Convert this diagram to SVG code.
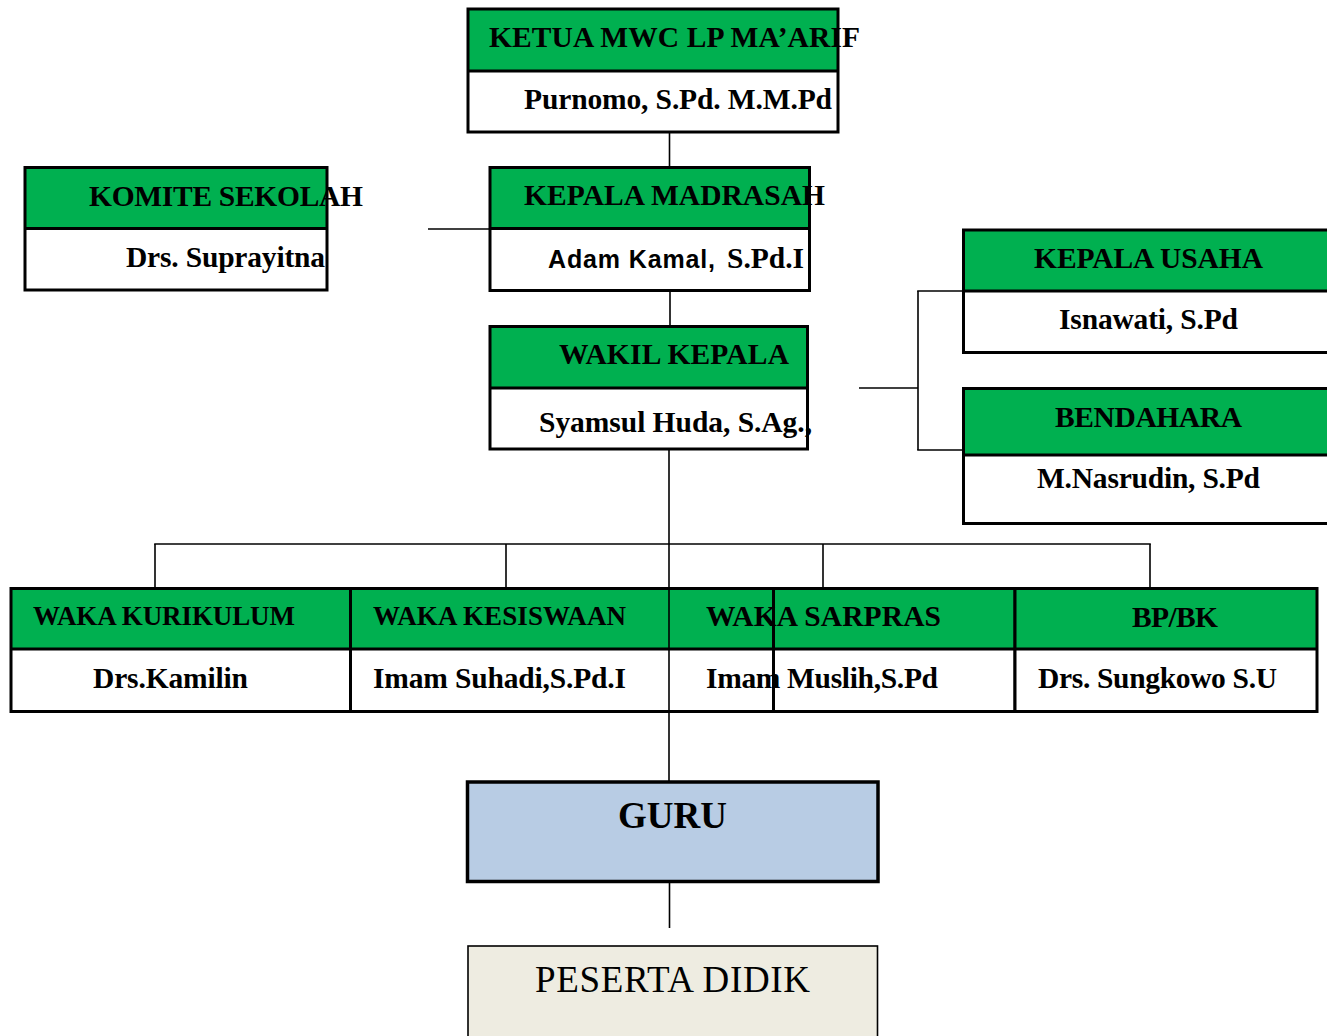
<svg xmlns="http://www.w3.org/2000/svg" width="1327" height="1036" viewBox="0 0 1327 1036">
<style>
.hdr{fill:#00B050}
.wh{fill:#FFFFFF}
.out{fill:none;stroke:#000;stroke-width:3}
.t{font-family:"Liberation Serif","Times New Roman",serif;font-weight:bold;font-size:29.5px;fill:#000}
.s{font-size:27px}
.conn line{stroke:#000;stroke-width:1.6}
</style>
<rect x="0" y="0" width="1327" height="1036" fill="#FFFFFF"/>

<g id="ketua">
<rect class="hdr" x="468" y="9" width="370" height="62"/>
<rect class="wh" x="468" y="71" width="370" height="61"/>
<text class="t" x="489" y="47" textLength="371">KETUA MWC LP MA’ARIF</text>
<text class="t" x="524" y="109" textLength="308">Purnomo, S.Pd. M.M.Pd</text>
<rect class="out" x="468" y="9" width="370" height="123"/>
<line x1="468" y1="71" x2="838" y2="71" stroke="#000" stroke-width="3"/>
</g>

<g id="komite">
<rect class="hdr" x="25" y="167.5" width="302" height="61"/>
<rect class="wh" x="25" y="228.5" width="302" height="61.5"/>
<text class="t" x="89" y="206" textLength="274">KOMITE SEKOLAH</text>
<text class="t" x="126" y="267" textLength="199">Drs. Suprayitna</text>
<rect class="out" x="25" y="167.5" width="302" height="122.5"/>
<line x1="25" y1="228.5" x2="327" y2="228.5" stroke="#000" stroke-width="3"/>
</g>

<g id="kepala-madrasah">
<rect class="hdr" x="490" y="167.5" width="319.5" height="61"/>
<rect class="wh" x="490" y="228.5" width="319.5" height="62"/>
<text class="t" x="524" y="205" textLength="301">KEPALA MADRASAH</text>
<text class="t" x="548" y="268"><tspan font-family="'Liberation Sans',Arial,sans-serif" font-size="25" textLength="167">Adam Kamal,</tspan><tspan x="727">S.Pd.I</tspan></text>
<rect class="out" x="490" y="167.5" width="319.5" height="123"/>
<line x1="490" y1="228.5" x2="809.5" y2="228.5" stroke="#000" stroke-width="3"/>
</g>

<g id="wakil-kepala">
<rect class="hdr" x="490" y="326.5" width="317.5" height="61.5"/>
<rect class="wh" x="490" y="388" width="317.5" height="61"/>
<text class="t" x="559" y="364" textLength="230">WAKIL KEPALA</text>
<text class="t" x="539" y="432" textLength="273">Syamsul Huda, S.Ag.,</text>
<rect class="out" x="490" y="326.5" width="317.5" height="122.5"/>
<line x1="490" y1="388" x2="807.5" y2="388" stroke="#000" stroke-width="3"/>
</g>

<g id="kepala-usaha">
<rect class="hdr" x="963.5" y="230" width="370" height="61"/>
<rect class="wh" x="963.5" y="291" width="370" height="61.5"/>
<text class="t" x="1034" y="268" textLength="229">KEPALA USAHA</text>
<text class="t" x="1059" y="329" textLength="179">Isnawati, S.Pd</text>
<rect class="out" x="963.5" y="230" width="370" height="122.5"/>
<line x1="963.5" y1="291" x2="1330" y2="291" stroke="#000" stroke-width="3"/>
</g>

<g id="bendahara">
<rect class="hdr" x="963.5" y="388.5" width="370" height="66.5"/>
<rect class="wh" x="963.5" y="455" width="370" height="68.5"/>
<text class="t" x="1055" y="427" textLength="187">BENDAHARA</text>
<text class="t" x="1037" y="488" textLength="223">M.Nasrudin, S.Pd</text>
<rect class="out" x="963.5" y="388.5" width="370" height="135"/>
<line x1="963.5" y1="455" x2="1330" y2="455" stroke="#000" stroke-width="3"/>
</g>

<g id="waka-kurikulum">
<rect class="hdr" x="11" y="588.5" width="339.5" height="60.5"/>
<rect class="wh" x="11" y="649" width="339.5" height="62.5"/>
<text class="t s" x="33" y="625" textLength="262">WAKA KURIKULUM</text>
<text class="t" x="93" y="688" textLength="155">Drs.Kamilin</text>
<rect class="out" x="11" y="588.5" width="339.5" height="123"/>
<line x1="11" y1="649" x2="350.5" y2="649" stroke="#000" stroke-width="3"/>
</g>

<g id="waka-kesiswaan">
<rect class="hdr" x="350.5" y="588.5" width="423" height="60.5"/>
<rect class="wh" x="350.5" y="649" width="423" height="62.5"/>
<text class="t s" x="373" y="625" textLength="253">WAKA KESISWAAN</text>
<text class="t" x="373" y="688" textLength="253">Imam Suhadi,S.Pd.I</text>
<rect class="out" x="350.5" y="588.5" width="423" height="123"/>
<line x1="350.5" y1="649" x2="773.5" y2="649" stroke="#000" stroke-width="3"/>
</g>

<g id="waka-sarpras">
<rect class="hdr" x="773.5" y="588.5" width="241.5" height="60.5"/>
<rect class="wh" x="773.5" y="649" width="241.5" height="62.5"/>
<text class="t" x="706" y="626" textLength="235">WAKA SARPRAS</text>
<text class="t" x="706" y="688" textLength="232">Imam Muslih,S.Pd</text>
<rect class="out" x="773.5" y="588.5" width="241.5" height="123"/>
<line x1="773.5" y1="649" x2="1015" y2="649" stroke="#000" stroke-width="3"/>
</g>

<g id="bp-bk">
<rect class="hdr" x="1015" y="588.5" width="302" height="60.5"/>
<rect class="wh" x="1015" y="649" width="302" height="62.5"/>
<text class="t" x="1132" y="627" textLength="86">BP/BK</text>
<text class="t" x="1038" y="688" textLength="239">Drs. Sungkowo S.U</text>
<rect class="out" x="1015" y="588.5" width="302" height="123"/>
<line x1="1015" y1="649" x2="1317" y2="649" stroke="#000" stroke-width="3"/>
</g>

<g id="guru">
<rect x="467.5" y="782" width="410.5" height="99.5" fill="#B8CCE4" stroke="#000" stroke-width="3.5"/>
<text class="t" x="618" y="828" style="font-size:37px" textLength="109">GURU</text>
</g>

<g id="peserta-didik">
<rect x="468" y="946" width="409.5" height="100" fill="#EEECE1" stroke="#000" stroke-width="1.6"/>
<text x="535" y="992" font-family="'Liberation Serif','Times New Roman',serif" font-size="37" fill="#000" textLength="275">PESERTA DIDIK</text>
</g>

<g id="connectors" class="conn">
<line x1="669.5" y1="132" x2="669.5" y2="167.5"/>
<line x1="670" y1="290.5" x2="670" y2="326.5"/>
<line x1="669" y1="449" x2="669" y2="782"/>
<line x1="669.5" y1="881.5" x2="669.5" y2="928"/>
<line x1="428" y1="229" x2="490" y2="229"/>
<line x1="859" y1="388" x2="918" y2="388"/>
<line x1="918" y1="291" x2="918" y2="450"/>
<line x1="917.2" y1="291" x2="963.5" y2="291"/>
<line x1="917.2" y1="450" x2="963.5" y2="450"/>
<line x1="154.2" y1="544" x2="1150.8" y2="544"/>
<line x1="155" y1="544" x2="155" y2="588.5"/>
<line x1="506" y1="544" x2="506" y2="588.5"/>
<line x1="823" y1="544" x2="823" y2="588.5"/>
<line x1="1150" y1="544" x2="1150" y2="588.5"/>
</g>
</svg>
